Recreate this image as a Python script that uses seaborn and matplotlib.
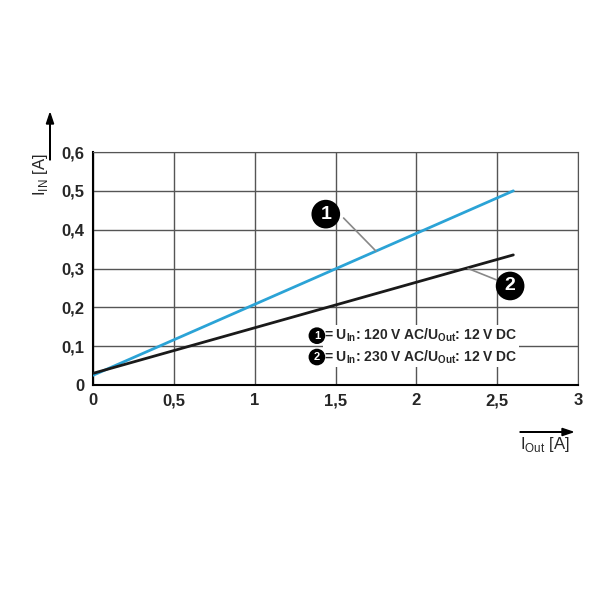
import matplotlib
matplotlib.use("Agg")
import matplotlib.pyplot as plt
import seaborn as sns
import pandas as pd

x_vals = [0, 2.6]
in_120 = [0.025, 0.5]
in_230 = [0.03, 0.335]
xticks = [0, 0.5, 1, 1.5, 2, 2.5, 3]
xlabels = ["0", "0,5", "1", "1,5", "2", "2,5", "3"]
yticks = [0, 0.1, 0.2, 0.3, 0.4, 0.5, 0.6]
ylabels = ["0", "0,1", "0,2", "0,3", "0,4", "0,5", "0,6"]

sns.set_style("white")
plt.rcParams['font.family'] = ['Liberation Sans', 'DejaVu Sans']
fig = plt.figure(figsize=(6, 6), dpi=100)
ax = fig.add_axes([93/600, 1-385/600, 485/600, 233/600])

df = pd.DataFrame({"x": x_vals * 2, "y": in_120 + in_230,
                   "s": ["1"] * 2 + ["2"] * 2})
sns.lineplot(data=df, x="x", y="y", hue="s", palette=["#2ba3d6", "#1a1a1a"],
             linewidth=2, legend=False, ax=ax, zorder=3)
ax.set_xlim(0, 3); ax.set_ylim(0, 0.6)
ax.set_xticks(xticks); ax.set_xticklabels(xlabels)
ax.set_yticks(yticks); ax.set_yticklabels(ylabels)
ax.tick_params(labelsize=12, length=0, pad=6)
for l in ax.get_xticklabels() + ax.get_yticklabels():
    l.set_fontweight("bold")
ax.grid(True, color="#555555", linewidth=1)
for s in ax.spines.values():
    s.set_color("#555555")
ax.spines["left"].set_color("black"); ax.spines["left"].set_linewidth(1.5)
ax.spines["bottom"].set_color("black"); ax.spines["bottom"].set_linewidth(1.5)
ax.set_xlabel(""); ax.set_ylabel("")

def badge(x, y, t, fs):
    ax.text(x, y, t, ha="center", va="center", color="white", fontsize=fs, fontweight="bold",
            bbox=dict(boxstyle="circle,pad=0.3", fc="black", ec="none"), zorder=7)

ax.plot([1.55, 1.75], [0.43, 0.345], color="#888888", lw=1.2, zorder=4)
badge(1.44, 0.44, "1", 14)
ax.plot([2.32, 2.5], [0.3, 0.27], color="#888888", lw=1.2, zorder=4)
badge(2.58, 0.255, "2", 14)

ax.text(1.43, 0.1, "= U$_{\\mathregular{In}}$: 120 V AC/U$_{\\mathregular{Out}}$: 12 V DC\n"
        "= U$_{\\mathregular{In}}$: 230 V AC/U$_{\\mathregular{Out}}$: 12 V DC",
        fontsize=10, fontweight="bold", va="center", ha="left", linespacing=1.3,
        bbox=dict(fc="white", ec="none", pad=1), zorder=6)
badge(1.385, 0.127, "1", 8)
badge(1.385, 0.072, "2", 8)

fig.text(40/600, 1-175/600, "I$_{\\mathregular{IN}}$ [A]", rotation=90, fontsize=12,
         ha="center", va="center")
fig.add_artist(matplotlib.patches.FancyArrow(50/600, 1-160/600, 0, 0.06, width=0.001,
               head_width=0.012, head_length=0.018, color="black", transform=fig.transFigure))
fig.text(545/600, 1-445/600, "I$_{\\mathregular{Out}}$ [A]", fontsize=12, ha="center", va="center")
fig.add_artist(matplotlib.patches.FancyArrow(520/600, 1-432/600, 0.07, 0, width=0.001,
               head_width=0.012, head_length=0.018, color="black", transform=fig.transFigure))
fig.savefig("out.png", dpi=100, facecolor="white")
